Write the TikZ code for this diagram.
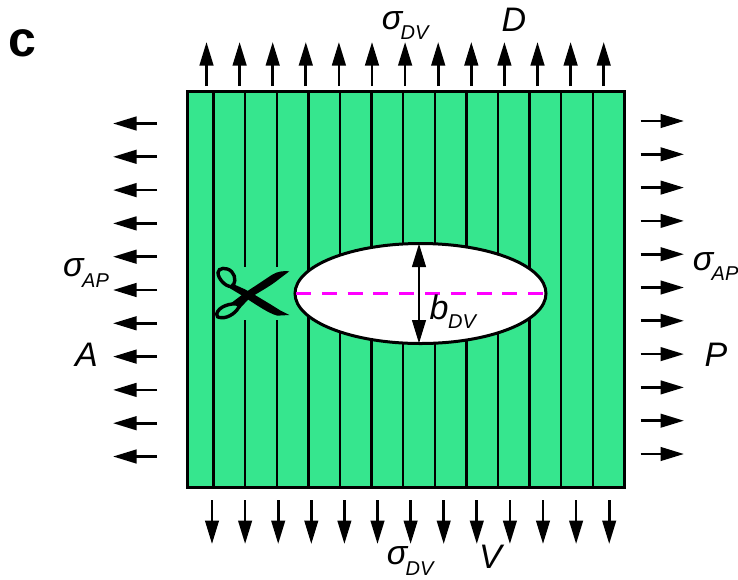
\documentclass[tikz,border=0pt]{standalone}
\usepackage{fontspec}
\setmainfont{Liberation Sans}
\usetikzlibrary{arrows.meta}
\definecolor{tissue}{RGB}{54,230,142}
\definecolor{cutline}{RGB}{255,0,255}
\tikzset{
  force/.style={line width=2.7pt,-{Triangle[length=23.5pt,width=13.5pt]}},
  span/.style={line width=2.7pt,{Triangle[length=23.5pt,width=13.5pt]}-{Triangle[length=23.5pt,width=13.5pt]}},
  vein/.style={line width=2.4pt,black},
  lab/.style={font=\fontsize{34}{36}\selectfont\itshape,inner sep=0pt},
  sublab/.style={font=\fontsize{20}{22}\selectfont\itshape,inner sep=0pt},
}
\begin{document}
\begin{tikzpicture}[x=1pt,y=-1pt]
\useasboundingbox (0,0) rectangle (738,579);
\fill[white] (0,0) rectangle (738,579);
\node[font=\fontsize{50}{52}\selectfont\bfseries,inner sep=0pt] (panel) at (22,43) {c};
% tissue
\fill[tissue] (187,91) rectangle (624,487);
\foreach \k in {0,...,12}{
  \draw[vein] ({213.5+31.6*\k},91) -- ({213.5+31.6*\k},487);
}
% gap in lines around the scissors
\fill[tissue] (240,267) rectangle (282,320);
\draw[line width=3pt] (187,91) rectangle (624,487);
% hole
\draw[line width=3pt,fill=white] (420.5,293.5) ellipse [x radius=125.5,y radius=50];
\draw[cutline,line width=2.7pt,dash pattern=on 15pt off 10.8pt] (296,293.5) -- (545,293.5);
\coordinate (holetop) at (419,243.5);
\coordinate (holebot) at (419,343.5);
\draw[span] (holetop) -- (holebot);
% force arrows
\foreach \k in {0,...,12}{
  \draw[force] ({206.5+33.1*\k},86) -- ({206.5+33.1*\k},42);
  \draw[force] ({212+33.1*\k},500) -- ({212+33.1*\k},544);
}
\foreach \k in {0,...,10}{
  \draw[force] (157,{123.5+33.3*\k}) -- (113,{123.5+33.3*\k});
  \draw[force] (640.5,{121+33.3*\k}) -- (684,{121+33.3*\k});
}
% scissors, drawn in zoom coordinates
\begin{scope}[shift={(190,230)},x=0.3333pt,y=-0.3333pt]
  \draw[line width=3.4pt] (84,128) .. controls (84,113) and (110,110) .. (125,125)
        .. controls (140,140) and (135,165) .. (125,170)
        .. controls (105,170) and (84,145) .. (84,128) -- cycle;
  \draw[line width=3.4pt] (80,252) .. controls (85,230) and (120,218) .. (150,222)
        .. controls (145,245) and (115,265) .. (95,263)
        .. controls (85,263) and (78,260) .. (80,252) -- cycle;
  \fill (125,160) -- (165,178) -- (200,198) -- (240,222) -- (272,242) -- (298,255)
        -- (262,257) .. controls (235,250) and (200,225) .. (150,193) -- (120,175) -- cycle;
  \fill (125,218) -- (165,188) -- (200,165) -- (245,135) .. controls (262,124) and (280,122) .. (298,124)
        -- (270,145) .. controls (240,170) and (200,190) .. (178,205) -- (150,235) -- cycle;
\end{scope}
% labels
\node[lab] (sdv) at (392,21) {σ};
\node[sublab] (sdvs) at (414.5,32.5) {DV};
\node[lab] (dd) at (514,20) {D};
\node[lab] (sdvb) at (397,556) {σ};
\node[sublab] (sdvbs) at (419.5,569) {DV};
\node[lab] (vv) at (490.5,556.5) {V};
\node[lab] (sapl) at (73.5,268) {σ};
\node[sublab] (sapls) at (95.5,280.5) {AP};
\node[lab] (aa) at (86.5,355) {A};
\node[lab] (sapr) at (703,262) {σ};
\node[sublab] (saprs) at (725,274) {AP};
\node[lab] (pp) at (716,355) {P};
\node[lab] (bdv) at (439,307) {b};
\node[sublab] (bdvs) at (462,322) {DV};
\end{tikzpicture}
\end{document}
